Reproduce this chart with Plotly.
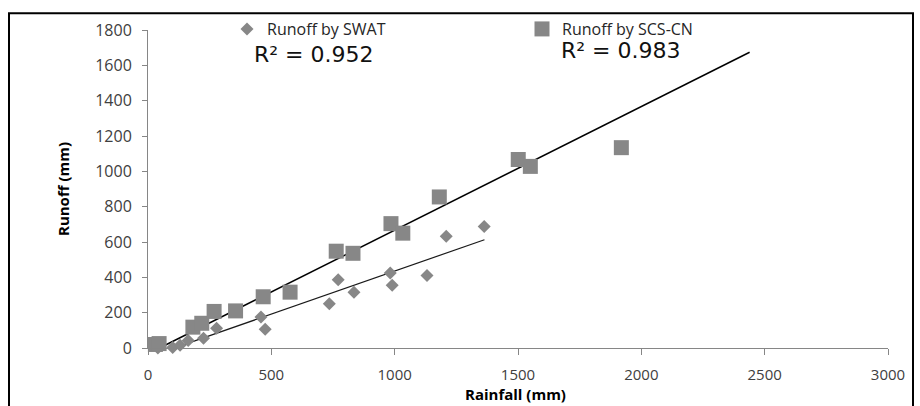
import plotly.graph_objects as go

# Runoff by SWAT (rainfall mm, runoff mm)
swat_rain = [40, 100, 130, 163, 225, 278, 458, 475, 735, 771, 835, 982, 990, 1131, 1209, 1363]
swat_runoff = [0, 3, 15, 42, 55, 112, 175, 106, 251, 387, 315, 425, 355, 410, 632, 688]

# Runoff by SCS-CN
scs_rain = [30, 45, 182, 218, 268, 355, 467, 576, 763, 831, 985, 1033, 1181, 1501, 1550, 1919]
scs_runoff = [20, 25, 118, 140, 207, 210, 290, 316, 548, 536, 704, 650, 855, 1067, 1028, 1134]

# Linear trend lines as drawn (end points)
swat_trend_x = [103, 1364]
swat_trend_y = [-2, 613]
scs_trend_x = [53, 2439]
scs_trend_y = [4, 1674]

r2_labels = ["R² = 0.952", "R² = 0.983"]
series_names = ["Runoff by SWAT", "Runoff by SCS-CN"]

x_ticks = [0, 500, 1000, 1500, 2000, 2500, 3000]
y_ticks = [0, 200, 400, 600, 800, 1000, 1200, 1400, 1600, 1800]

W, H = 920, 406
L, R, T, B = 148, 32, 26, 58
PW, PH = W - L - R, H - T - B


def px(xp):
    return (xp - L) / PW


def py(yp):
    return (H - B - yp) / PH


grey = "#878787"
fig = go.Figure()

fig.add_trace(go.Scatter(
    x=swat_trend_x, y=swat_trend_y, mode="lines", showlegend=False,
    line=dict(color="#1a1a1a", width=1.2), hoverinfo="skip"))
fig.add_trace(go.Scatter(
    x=scs_trend_x, y=scs_trend_y, mode="lines", showlegend=False,
    line=dict(color="#000000", width=1.5), hoverinfo="skip"))

fig.add_trace(go.Scatter(
    x=swat_rain, y=swat_runoff, mode="markers", name=series_names[0],
    marker=dict(symbol="diamond", size=10, color=grey), cliponaxis=False,
    legend="legend"))
fig.add_trace(go.Scatter(
    x=scs_rain, y=scs_runoff, mode="markers", name=series_names[1],
    marker=dict(symbol="square", size=15, color=grey), cliponaxis=False,
    legend="legend2"))

axis_common = dict(showgrid=False, zeroline=False, showline=True, linecolor="#868686",
                   linewidth=1, ticks="outside", tickcolor="#868686")

fig.update_xaxes(range=[0, 3000], tickvals=x_ticks, ticklen=6, ticklabelstandoff=7,
                 tickfont=dict(family="Open Sans", size=15, color="#404040"), **axis_common)
fig.update_yaxes(range=[0, 1800], tickvals=y_ticks, ticklen=5, ticklabelstandoff=7,
                 tickfont=dict(family="Open Sans", size=16, color="#404040"), **axis_common)

leg_font = dict(family="Open Sans", size=16, color="#262626")
fig.update_layout(
    width=W, height=H,
    margin=dict(l=L, r=R, t=T, b=B),
    paper_bgcolor="white", plot_bgcolor="white",
    legend=dict(x=px(227), y=py(25), xanchor="left", yanchor="middle",
                bgcolor="rgba(0,0,0,0)", font=leg_font),
    legend2=dict(x=px(522), y=py(25), xanchor="left", yanchor="middle",
                 bgcolor="rgba(0,0,0,0)", font=leg_font),
)

fig.add_annotation(x=px(314), y=py(51), xref="paper", yref="paper", text=r2_labels[0],
                   showarrow=False, font=dict(family="DejaVu Sans", size=22, color="#111111"),
                   xanchor="center", yanchor="middle")
fig.add_annotation(x=px(621), y=py(47), xref="paper", yref="paper", text=r2_labels[1],
                   showarrow=False, font=dict(family="DejaVu Sans", size=22, color="#111111"),
                   xanchor="center", yanchor="middle")

title_font = dict(family="Open Sans", size=15, color="#000000", weight="bold")
fig.add_annotation(x=px(63), y=py(187), xref="paper", yref="paper", text="Runoff (mm)",
                   showarrow=False, textangle=-90, font=title_font,
                   xanchor="center", yanchor="middle")
fig.add_annotation(x=px(515), y=py(406), xref="paper", yref="paper", text="Rainfall (mm)",
                   showarrow=False, font=title_font, xanchor="center", yanchor="bottom",
                   borderpad=0)

# outer chart frame
fig.add_shape(type="rect", xref="paper", yref="paper",
              x0=px(9), x1=px(913), y0=py(440), y1=py(9),
              line=dict(color="#000000", width=2), fillcolor="rgba(0,0,0,0)", layer="below")

fig.write_html("out.html", config={"displayModeBar": False},
               post_script="document.body.style.margin='0';document.body.style.padding='0';")
